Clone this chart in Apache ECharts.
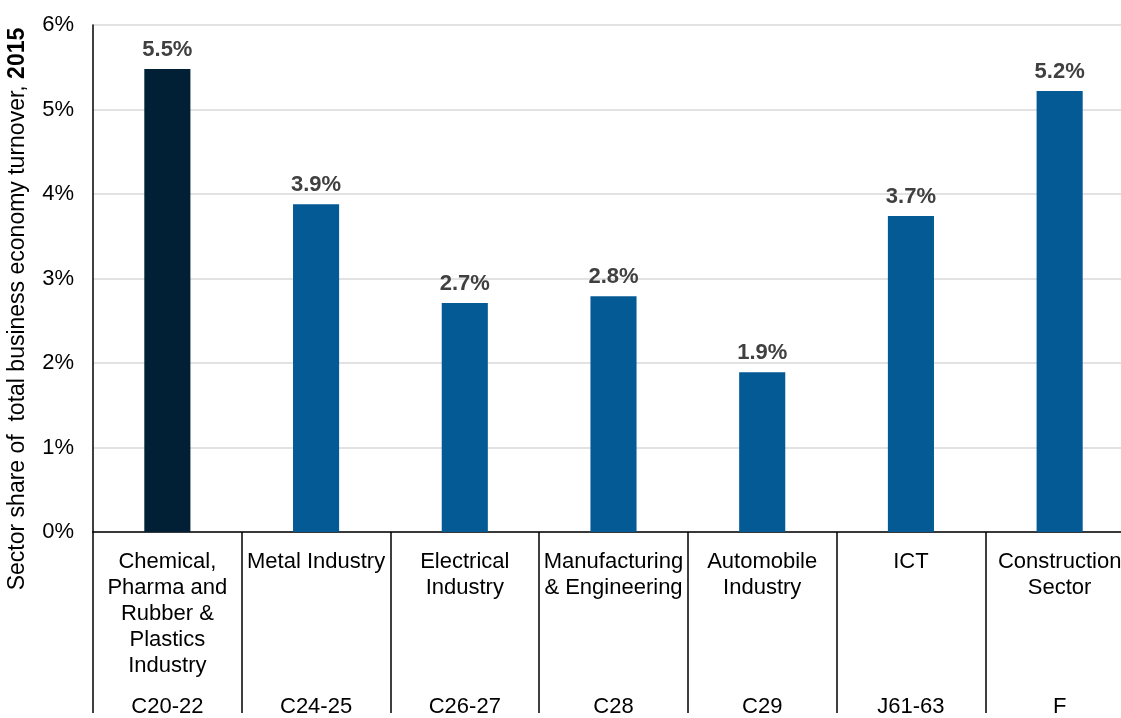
<!DOCTYPE html>
<html>
<head>
<meta charset="utf-8">
<script src="https://cdn.jsdelivr.net/npm/echarts@6/dist/echarts.min.js"></script>
<style>
html,body{margin:0;padding:0;background:#fff;overflow:hidden;width:1121px;height:718px;}
#chart{width:1134px;height:718px;}
</style>
</head>
<body>
<div id="chart"></div>
<script>
const categories = [
  'Chemical,\nPharma and\nRubber &\nPlastics\nIndustry',
  'Metal Industry',
  'Electrical\nIndustry',
  'Manufacturing\n& Engineering',
  'Automobile\nIndustry',
  'ICT',
  'Construction\nSector'
];
const codes = ['C20-22', 'C24-25', 'C26-27', 'C28', 'C29', 'J61-63', 'F'];
const values = [5.48, 3.88, 2.71, 2.79, 1.89, 3.74, 5.22];
const yTicks = [0, 1, 2, 3, 4, 5, 6];
const yAxisTitle = 'Sector share of  total business economy turnover, ';
const yAxisTitleBold = '2015';

const FONT = 'Liberation Sans, Arial, sans-serif';
const chart = echarts.init(document.getElementById('chart'), null, {renderer: 'canvas'});

const option = {
  animation: false,
  backgroundColor: '#ffffff',
  textStyle: {fontFamily: FONT},
  grid: {left: 93, top: 25, right: 0, bottom: 181, containLabel: false},
  xAxis: [
    {
      type: 'category',
      data: categories,
      boundaryGap: true,
      axisLine: {show: true, lineStyle: {color: '#000', width: 1.5}},
      axisTick: {show: true, interval: 0, length: 181, lineStyle: {color: '#000', width: 1.5}},
      axisLabel: {interval: 0, margin: 17, color: '#000', fontSize: 22, lineHeight: 26, fontFamily: FONT, align: 'center'}
    },
    {
      type: 'category',
      data: codes,
      position: 'bottom',
      axisLine: {show: false},
      axisTick: {show: false},
      axisLabel: {interval: 0, margin: 164, color: '#000', fontSize: 22, fontFamily: FONT}
    }
  ],
  yAxis: {
    type: 'value',
    min: yTicks[0],
    max: yTicks[yTicks.length - 1],
    interval: 1,
    axisLine: {show: true, lineStyle: {color: '#000', width: 1.5}},
    axisTick: {show: false},
    axisLabel: {formatter: '{value}%', color: '#000', fontSize: 22, margin: 19, fontFamily: FONT},
    splitLine: {show: true, lineStyle: {color: '#d9d9d9', width: 1.5}}
  },
  graphic: [{
    type: 'text',
    x: 18,
    y: 309,
    rotation: Math.PI / 2,
    style: {
      text: '{a|' + yAxisTitle + '}{b|' + yAxisTitleBold + '}',
      align: 'center',
      verticalAlign: 'middle',
      rich: {
        a: {fontSize: 23, fontFamily: FONT, fill: '#000', color: '#000'},
        b: {fontSize: 23, fontFamily: FONT, fontWeight: 'bold', fill: '#000', color: '#000'}
      }
    }
  }],
  series: [{
    type: 'bar',
    xAxisIndex: 0,
    data: values.map((v, i) => ({value: v, itemStyle: {color: i === 0 ? '#022035' : '#035a95'}})),
    barWidth: '31%',
    label: {
      show: true,
      position: 'top',
      distance: 8,
      formatter: p => p.value.toFixed(1) + '%',
      color: '#404040',
      fontSize: 22,
      fontWeight: 'bold',
      fontFamily: FONT
    }
  }]
};
chart.setOption(option);
</script>
</body>
</html>
